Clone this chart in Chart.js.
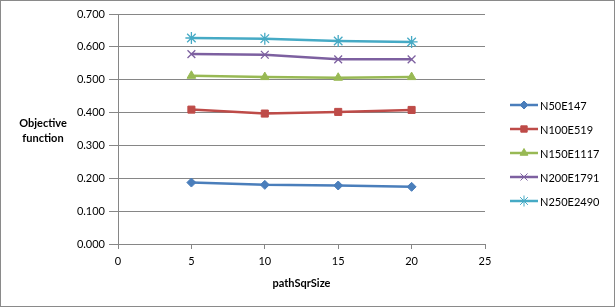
<!DOCTYPE html>
<html>
<head>
<meta charset="utf-8">
<script src="https://cdn.jsdelivr.net/npm/chart.js@4/dist/chart.umd.min.js"></script>
<style>
    html, body { margin: 0; padding: 0; background: #fff; }
    #wrap { width: 615px; height: 307px; position: relative; }
</style>
</head>
<body>
<div id="wrap"><canvas id="chart" width="615" height="307"></canvas></div>
<script>
// データ
const pathSqrSize = [5, 10, 15, 20]
const seriesNames = ["N50E147", "N100E519", "N150E1117", "N200E1791", "N250E2490"]
const n50e147 = [0.187, 0.180, 0.178, 0.174]
const n100e519 = [0.409, 0.397, 0.402, 0.408]
const n150e1117 = [0.512, 0.508, 0.506, 0.508]
const n200e1791 = [0.578, 0.576, 0.562, 0.562]
const n250e2490 = [0.627, 0.625, 0.618, 0.615]
const yTicks = [0, 0.1, 0.2, 0.3, 0.4, 0.5, 0.6, 0.7]
const xTicks = [0, 5, 10, 15, 20, 25]

const colors = ['#4A7EBB', '#BE4B48', '#98B954', '#7D60A0', '#46AAC5']
const styles = ['rectRot', 'rect', 'triangle', 'crossRot', 'star']
const radii = [4.5, 5, 5, 5.5, 6]
const values = [n50e147, n100e519, n150e1117, n200e1791, n250e2490]

const fontName = 'Lato, "Open Sans", sans-serif'
const axisColor = '#868686'

function toPoints(arr) {
    return pathSqrSize.map((x, i) => ({ x: x, y: arr[i] }))
}

let datasets = []
for (let i = 0; i < seriesNames.length; i++) {
    datasets.push({
        label: seriesNames[i],
        data: toPoints(values[i]),
        borderColor: colors[i],
        backgroundColor: colors[i],
        borderWidth: 2.5,
        pointStyle: styles[i],
        pointRadius: radii[i],
        pointBorderWidth: (styles[i] == 'crossRot' || styles[i] == 'star') ? 1.3 : 1,
        pointBackgroundColor: colors[i],
        pointBorderColor: colors[i],
        tension: 0,
    })
}

// 凡例・縦軸タイトル・外枠
const extras = {
    id: 'extras',
    afterDraw(chart) {
        const ctx = chart.ctx
        ctx.save()
        ctx.strokeStyle = '#8a8a8a'
        ctx.lineWidth = 1
        ctx.strokeRect(0.5, 0.5, 614, 306)

        ctx.fillStyle = '#000'
        ctx.font = 'bold 11px ' + fontName
        ctx.textAlign = 'center'
        ctx.textBaseline = 'middle'
        ctx.fillText('Objective', 43, 123)
        ctx.fillText('function', 43, 138)

        ctx.font = '11px ' + fontName
        ctx.textAlign = 'left'
        for (let i = 0; i < seriesNames.length; i++) {
            const y = 105 + i * 24
            ctx.strokeStyle = colors[i]
            ctx.lineWidth = 2.5
            ctx.beginPath()
            ctx.moveTo(510, y)
            ctx.lineTo(538, y)
            ctx.stroke()
            ctx.fillStyle = colors[i]
            ctx.strokeStyle = colors[i]
            ctx.lineWidth = 1
            Chart.helpers.drawPoint(ctx, { pointStyle: styles[i], radius: radii[i] - 0.5, rotation: 0, borderWidth: 1 }, 524, y)
            ctx.fillStyle = '#000'
            ctx.fillText(seriesNames[i], 540, y + 1)
        }
        ctx.restore()
    }
}

new Chart(document.getElementById('chart'), {
    type: 'line',
    data: { datasets: datasets },
    options: {
        responsive: false,
        animation: false,
        layout: { padding: { left: 0, right: 130, top: 14, bottom: 0 } },
        plugins: { legend: { display: false }, tooltip: { enabled: false } },
        scales: {
            x: {
                type: 'linear',
                min: 0,
                max: 25,
                afterBuildTicks: (s) => { s.ticks = xTicks.map(v => ({ value: v })) },
                afterFit: (s) => { s.height = 63 },
                grid: { drawOnChartArea: false, drawTicks: true, tickLength: 5, color: axisColor },
                border: { display: true, color: axisColor },
                ticks: { padding: 6, color: '#000', font: { family: fontName, size: 11 } },
                title: {
                    display: true,
                    text: 'pathSqrSize',
                    color: '#000',
                    font: { family: fontName, size: 11, weight: 'bold' },
                    padding: { top: 0, bottom: 17 }
                }
            },
            y: {
                min: 0,
                max: 0.7,
                afterBuildTicks: (s) => { s.ticks = yTicks.map(v => ({ value: v })) },
                afterFit: (s) => { s.width = 118 },
                grid: { drawTicks: true, tickLength: 9, color: axisColor },
                border: { display: true, color: axisColor },
                ticks: {
                    padding: 4,
                    color: '#000',
                    font: { family: fontName, size: 11 },
                    callback: (v) => Number(v).toFixed(3)
                }
            }
        }
    },
    plugins: [extras]
})
</script>
</body>
</html>
